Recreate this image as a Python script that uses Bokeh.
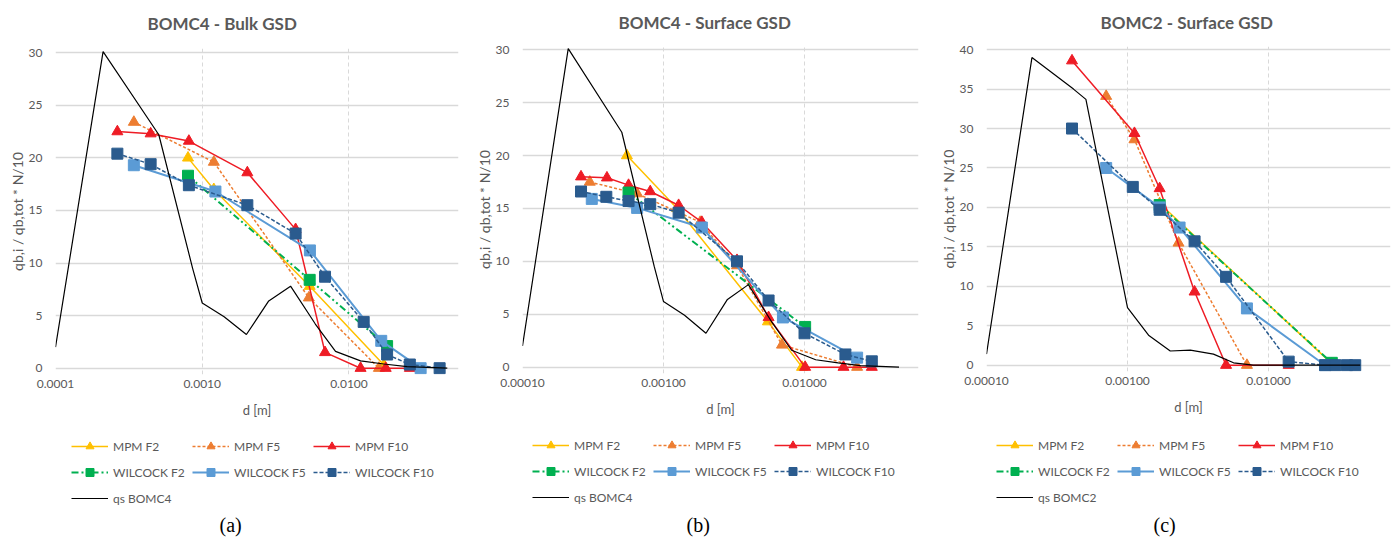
from bokeh.plotting import figure
from bokeh.layouts import row, column
from bokeh.models import (Legend, LegendItem, FixedTicker, PrintfTickFormatter,
                          Title, Range1d)
from bokeh.embed import file_html
from bokeh.resources import INLINE

# ---------------- data ----------------
x_ticks = [0.0001, 0.001, 0.01]
y_ticks_30 = [0, 5, 10, 15, 20, 25, 30]
y_ticks_40 = [0, 5, 10, 15, 20, 25, 30, 35, 40]

# qs BOMC4 (panels a and b)
qs_bomc4_d = [0.0001, 0.000211, 0.000506, 0.00086, 0.001, 0.00141, 0.002, 0.00284,
              0.004, 0.0059, 0.0081, 0.012, 0.0173, 0.0249, 0.0468]
qs_bomc4_y = [2.0, 30.1, 22.2, 9.5, 6.2, 4.9, 3.2, 6.4, 7.8, 4.2, 1.6, 0.7, 0.4, 0.15, 0.0]

# qs BOMC2 (panel c)
qs_bomc2_d = [0.0001, 0.00021, 0.000414, 0.000507, 0.001, 0.00141, 0.00201, 0.00279,
              0.00407, 0.00565, 0.0078, 0.0447]
qs_bomc2_y = [1.4, 39.0, 35.0, 33.7, 7.3, 3.8, 1.8, 1.9, 1.4, 0.3, 0.0, 0.0]

# Panel (a) BOMC4 - Bulk GSD
a_mpm_f2_d = [0.0008, 0.0012, 0.0054, 0.0173]
a_mpm_f2_y = [20.0, 17.0, 7.8, 0.3]
a_mpm_f5_d = [0.000342, 0.0012, 0.00533, 0.016]
a_mpm_f5_y = [23.4, 19.6, 6.7, 0.0]
a_mpm_f10_d = [0.000264, 0.000445, 0.000811, 0.00203, 0.00433, 0.00687, 0.012, 0.0178, 0.026]
a_mpm_f10_y = [22.5, 22.3, 21.6, 18.6, 13.2, 1.5, 0.0, 0.0, 0.0]
a_wil_f2_d = [0.0008, 0.0054, 0.0182]
a_wil_f2_y = [18.3, 8.4, 2.1]
a_wil_f5_d = [0.000342, 0.00123, 0.00542, 0.0166, 0.0308]
a_wil_f5_y = [19.3, 16.8, 11.2, 2.6, 0.0]
a_wil_f10_d = [0.000264, 0.000445, 0.000811, 0.00203, 0.00433, 0.00687, 0.0126, 0.0182, 0.026, 0.0415]
a_wil_f10_y = [20.4, 19.4, 17.4, 15.5, 12.8, 8.7, 4.4, 1.3, 0.35, 0.0]

# Panel (b) BOMC4 - Surface GSD
b_mpm_f2_d = [0.00055, 0.00125, 0.0055, 0.0096]
b_mpm_f2_y = [20.0, 15.0, 4.3, 0.0]
b_mpm_f5_d = [0.0003, 0.00065, 0.00182, 0.00332, 0.00692, 0.0236]
b_mpm_f5_y = [17.5, 16.4, 13.7, 9.6, 2.1, 0.0]
b_mpm_f10_d = [0.00026, 0.000397, 0.000565, 0.000805, 0.00128, 0.00187, 0.00332, 0.00556, 0.0101, 0.0189, 0.03]
b_mpm_f10_y = [18.0, 17.9, 17.2, 16.6, 15.3, 13.7, 10.1, 4.7, 0.0, 0.0, 0.0]
b_wil_f2_d = [0.000565, 0.0101]
b_wil_f2_y = [16.5, 3.8]
b_wil_f5_d = [0.00031, 0.00065, 0.00187, 0.00703, 0.0236]
b_wil_f5_y = [15.9, 15.05, 13.2, 4.7, 0.9]
b_wil_f10_d = [0.00026, 0.000393, 0.000565, 0.000805, 0.00128, 0.00332, 0.00556, 0.01, 0.0195, 0.03]
b_wil_f10_y = [16.6, 16.1, 15.7, 15.4, 14.6, 10.0, 6.3, 3.2, 1.2, 0.55]

# Panel (c) BOMC2 - Surface GSD
c_mpm_f2_d = [0.00169, 0.0281]
c_mpm_f2_y = [20.5, 0.2]
c_mpm_f5_d = [0.000706, 0.00112, 0.0023, 0.00703]
c_mpm_f5_y = [34.1, 28.6, 15.5, 0.0]
c_mpm_f10_d = [0.000404, 0.00112, 0.00169, 0.00299, 0.005, 0.0139]
c_mpm_f10_y = [38.6, 29.4, 22.4, 9.3, 0.0, 0.0]
c_wil_f2_d = [0.00169, 0.0281]
c_wil_f2_y = [20.3, 0.3]
c_wil_f5_d = [0.000706, 0.00169, 0.00234, 0.00703, 0.0252]
c_wil_f5_y = [25.0, 20.0, 17.45, 7.2, 0.0]
c_wil_f10_d = [0.000404, 0.00109, 0.00169, 0.00299, 0.005, 0.0139, 0.0252, 0.0298, 0.036, 0.0412]
c_wil_f10_y = [30.0, 22.6, 19.7, 15.7, 11.2, 0.45, 0.0, 0.0, 0.0, 0.0]

series_names = ["MPM F2", "MPM F5", "MPM F10", "WILCOCK F2", "WILCOCK F5", "WILCOCK F10"]

# ---------------- styling ----------------
GRAY = "#595959"
GRID = "#d9d9d9"
FONT = "Lato"
NAN = float("nan")
styles = {
    "MPM F2": dict(color="#FFC000", dash="solid", marker="triangle", lw=1.5),
    "MPM F5": dict(color="#ED7D31", dash="3 2", marker="triangle", lw=1.5),
    "MPM F10": dict(color="#EE1C25", dash="solid", marker="triangle", lw=1.5),
    "WILCOCK F2": dict(color="#00B050", dash="7 3 2 3 2 3", marker="square", lw=2),
    "WILCOCK F5": dict(color="#5B9BD5", dash="solid", marker="square", lw=2),
    "WILCOCK F10": dict(color="#2A5B8E", dash="4 2", marker="square", lw=1.5),
}
MAIN_H = 420
LEG_H = 542 - MAIN_H
LEG_BOTTOM = 31


def make_panel(title, title_offset, title_standoff, data, qs_d, qs_y,
               x_end, y_start, y_end, y_ticks, fmt, lb, fw, rb, tb, fh):
    p = figure(x_axis_type="log", frame_width=fw, frame_height=fh,
               x_range=Range1d(0.0001, x_end), y_range=Range1d(y_start, y_end),
               output_backend="svg", toolbar_location=None,
               min_border_left=lb, min_border_right=rb, min_border_top=tb,
               min_border_bottom=MAIN_H - tb - fh)
    p.outline_line_color = None
    p.background_fill_color = "white"
    p.border_fill_color = "white"

    xt = FixedTicker(ticks=x_ticks)
    yt = FixedTicker(ticks=y_ticks)
    p.xaxis.ticker = xt
    p.xgrid.ticker = xt
    p.yaxis.ticker = yt
    p.ygrid.ticker = yt
    p.xaxis.formatter = PrintfTickFormatter(format=fmt)
    for ax in (p.xaxis, p.yaxis):
        ax.axis_line_color = None
        ax.major_tick_line_color = None
        ax.minor_tick_line_color = None
        ax.major_tick_out = 0
        ax.major_tick_in = 0
        ax.minor_tick_out = 0
        ax.minor_tick_in = 0
        ax.major_label_text_font = FONT
        ax.major_label_text_font_size = "12px"
        ax.major_label_text_color = GRAY
        ax.axis_label_text_font = FONT
        ax.axis_label_text_font_style = "normal"
        ax.axis_label_text_color = GRAY
    p.xaxis.major_label_standoff = 5
    p.yaxis.major_label_standoff = 13
    p.xaxis.axis_label = "d [m]"
    p.xaxis.axis_label_text_font_size = "13px"
    p.xaxis.axis_label_standoff = 11
    p.yaxis.axis_label = "qb,i / qb,tot * N/10"
    p.yaxis.axis_label_text_font_size = "14px"
    p.yaxis.axis_label_standoff = 0

    p.xgrid.grid_line_color = GRID
    p.xgrid.grid_line_dash = "4 3"
    p.xgrid.grid_line_width = 1
    p.ygrid.grid_line_color = GRID
    p.ygrid.grid_line_width = 1.5

    p.title.text = title
    p.title.align = "left"
    p.title.offset = title_offset
    p.title.vertical_align = "top"
    p.title.text_font = FONT
    p.title.text_font_size = "17px"
    p.title.text_font_style = "bold"
    p.title.text_color = GRAY
    p.title.standoff = title_standoff

    for name, (dx, dy) in zip(series_names, data):
        st = styles[name]
        p.line(dx, dy, line_color=st["color"], line_width=st["lw"], line_dash=st["dash"])
        p.scatter(dx, dy, marker=st["marker"], size=11, fill_color=st["color"],
                  line_color=st["color"])
    p.line(qs_d, qs_y, line_color="black", line_width=1.2)
    return p


def make_legend_fig(lb, fw, rb, top, margin, qs_label, caption, cap_offset):
    lf = figure(frame_width=fw, frame_height=LEG_H - top - LEG_BOTTOM,
                x_range=Range1d(0, 1), y_range=Range1d(0, 1),
                x_axis_location=None, y_axis_location=None,
                output_backend="svg", toolbar_location=None,
                min_border_left=lb, min_border_right=rb, min_border_top=top,
                min_border_bottom=LEG_BOTTOM)
    lf.outline_line_color = None
    lf.grid.visible = False
    items = []
    for name in series_names:
        st = styles[name]
        # legend-only renderers (no visible data)
        lr = lf.line([NAN], [NAN], line_color=st["color"], line_width=st["lw"],
                     line_dash=st["dash"])
        sr = lf.scatter([NAN], [NAN], marker=st["marker"], size=10, fill_color=st["color"],
                        line_color=st["color"])
        items.append(LegendItem(label=name, renderers=[lr, sr]))
    qr = lf.line([NAN], [NAN], line_color="black", line_width=1.2)
    items.append(LegendItem(label=qs_label, renderers=[qr]))
    legend = Legend(items=items, orientation="horizontal", ncols=3, location="top_left",
                    margin=margin, padding=0, spacing=6, glyph_width=37, glyph_height=20,
                    label_height=20, label_width=73, label_standoff=5,
                    label_text_font=FONT, label_text_font_size="12px",
                    label_text_color=GRAY, border_line_color=None,
                    background_fill_alpha=0)
    lf.add_layout(legend)
    cap = Title(text=caption, align="left", offset=cap_offset,
                text_font="Liberation Serif", text_font_size="20px",
                text_font_style="normal", text_color="black", standoff=0)
    lf.add_layout(cap, "below")
    return lf


pa = make_panel("BOMC4 - Bulk GSD", 92, 25,
                [(a_mpm_f2_d, a_mpm_f2_y), (a_mpm_f5_d, a_mpm_f5_y), (a_mpm_f10_d, a_mpm_f10_y),
                 (a_wil_f2_d, a_wil_f2_y), (a_wil_f5_d, a_wil_f5_y), (a_wil_f10_d, a_wil_f10_y)],
                qs_bomc4_d, qs_bomc4_y,
                0.0558, -0.6, 30.4, y_ticks_30, "%.4f", 55, 403, 7, 48, 326)

pb = make_panel("BOMC4 - Surface GSD", 96, 22,
                [(b_mpm_f2_d, b_mpm_f2_y), (b_mpm_f5_d, b_mpm_f5_y), (b_mpm_f10_d, b_mpm_f10_y),
                 (b_wil_f2_d, b_wil_f2_y), (b_wil_f5_d, b_wil_f5_y), (b_wil_f10_d, b_wil_f10_y)],
                qs_bomc4_d, qs_bomc4_y,
                0.0643, -0.6, 30.4, y_ticks_30, "%.5f", 57, 396, 12, 45, 328)

pc = make_panel("BOMC2 - Surface GSD", 114, 23,
                [(c_mpm_f2_d, c_mpm_f2_y), (c_mpm_f5_d, c_mpm_f5_y), (c_mpm_f10_d, c_mpm_f10_y),
                 (c_wil_f2_d, c_wil_f2_y), (c_wil_f5_d, c_wil_f5_y), (c_wil_f10_d, c_wil_f10_y)],
                qs_bomc2_d, qs_bomc2_y,
                0.0733, -0.8, 40.4, y_ticks_40, "%.5f", 56, 404, 4, 46, 325)

la = make_legend_fig(55, 403, 7, 0, 16, "qs BOMC4", "(a)", 164)
lb_ = make_legend_fig(57, 396, 12, 5, 10, "qs BOMC4", "(b)", 164)
lc = make_legend_fig(56, 404, 4, 5, 10, "qs BOMC2", "(c)", 167)

layout = row(column(pa, la), column(pb, lb_), column(pc, lc))
open("out.html", "w").write(file_html(layout, INLINE))
